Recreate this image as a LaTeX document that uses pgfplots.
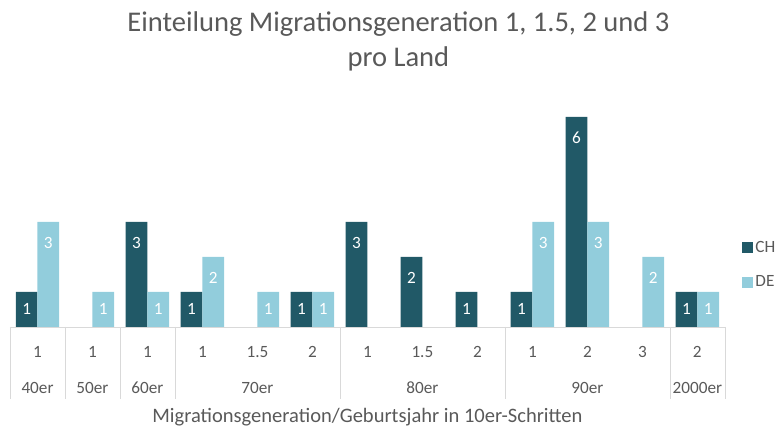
\documentclass[border=0pt]{standalone}
\usepackage{pgfplots}
\pgfplotsset{compat=1.18}
\usepackage{pgfplotstable}
\usepackage{fontspec}
\setmainfont{Carlito}
\definecolor{chcol}{HTML}{215967}
\definecolor{decol}{HTML}{92CDDC}
\definecolor{txt}{HTML}{595959}
\definecolor{gridc}{HTML}{D9D9D9}
\pgfplotstableread{
x CH DE
0 1 3
1 nan 1
2 3 1
3 1 2
4 nan 1
5 1 1
6 3 nan
7 2 nan
8 1 nan
9 1 3
10 6 3
11 nan 2
12 1 1
}\datatable
\begin{document}
\begin{tikzpicture}[x=0.75pt,y=0.75pt]
\begin{axis}[
 scale only axis,
 width=536.25pt, height=183.75pt,
 xmin=-0.5, xmax=12.5, ymin=0, ymax=7,
 ybar=0pt, bar width=16.3pt,
 axis line style={draw=none},
 ytick=\empty,
 xtick={0,...,12},
 xticklabels={1,1,1,1,1.5,2,1,1.5,2,1,2,3,2},
 major tick length=0pt,
 extra x ticks={0,1,2,4,7,10,12},
 extra x tick labels={40er,50er,60er,70er,80er,90er,2000er},
 xticklabel style={anchor=base, yshift=-22.7pt, text=txt, font=\fontsize{12.9}{15}\selectfont},
 extra x tick style={xticklabel style={yshift=-27pt}},
 xlabel={Migrationsgeneration/Geburtsjahr in 10er-Schritten},
 xlabel style={at={(axis description cs:0.5,0)}, anchor=base, yshift=-71.8pt, text=txt, font=\fontsize{15.4}{18}\selectfont},
 clip=false,
 nodes near coords,
 visualization depends on={y \as \rawy},
 every node near coord/.append style={anchor=center, text=white, font=\fontsize{12.9}{15}\selectfont, yshift={-min(15.75,13.125*\rawy)*1pt}},
 /pgf/number format/assume math mode=true,
 legend style={draw=none, fill=none, at={(axis description cs:1.0238,0.253)}, anchor=west, row sep=12pt, font=\fontsize{12.9}{15}\selectfont, text=txt, inner sep=0pt},
 legend cell align=left,
 legend image code/.code={\fill[#1, draw=none] (0pt,-4pt) rectangle (8pt,4pt);},
]
\addplot[fill=chcol, draw=none] table[x=x,y=CH]{\datatable};
\addplot[fill=decol, draw=none] table[x=x,y=DE]{\datatable};
\legend{CH,DE}
\coordinate (O) at (axis description cs:0,0);
\draw[gridc] (axis cs:-0.5,0) -- (axis cs:12.5,0);
\pgfplotsinvokeforeach{-0.5,0.5,1.5,2.5,5.5,8.5,11.5,12.5}{\draw[gridc] (axis cs:#1,0) -- ++(0pt,-54pt);}
\end{axis}
\path[use as bounding box] ([shift={(-10,-98)}]O) rectangle ([shift={(768,327)}]O);
\node[anchor=base, text=txt, font=\fontsize{21.4}{26}\selectfont, inner sep=0pt] at ([shift={(388.5,295)}]O) {Einteilung Migrationsgeneration 1, 1.5, 2 und 3};
\node[anchor=base, text=txt, font=\fontsize{21.4}{26}\selectfont, inner sep=0pt] at ([shift={(388.5,260)}]O) {pro Land};
\end{tikzpicture}
\end{document}
